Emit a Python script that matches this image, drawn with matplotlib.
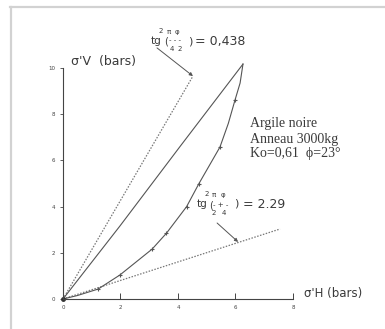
import matplotlib

matplotlib.use("Agg")
import matplotlib.pyplot as plt
from matplotlib.lines import Line2D

# loading path (with markers) and unloading path, bars
load_h = [0, 0.5, 1.22, 1.98, 3.1, 3.6, 4.3, 4.73, 5.1, 5.46, 5.75, 5.98, 6.16, 6.26]
load_v = [0, 0.15, 0.43, 1.04, 2.16, 2.85, 4.0, 5.0, 5.8, 6.58, 7.6, 8.6, 9.35, 10.17]
load_marks = [2, 3, 4, 5, 6, 7, 9, 11]
unload_h = [6.26, 4.07, 1.98, 0]
unload_v = [10.17, 6.6, 3.16, 0]

# limit lines (dotted)
k_active_h = [0, 4.52]
k_active_v = [0, 9.65]
k_passive_h = [0, 7.55]
k_passive_v = [0, 3.03]

x_ticks = [0, 2, 4, 6, 8]
y_ticks = [0, 2, 4, 6, 8, 10]

W, H = 385, 329
fig = plt.figure(figsize=(W / 100, H / 100), dpi=100)
fig.patch.set_facecolor("white")


def px(x, y):
    return x / W, 1 - y / H


# light frame of the scanned page
fig.add_artist(Line2D([10 / W, 1], [1 - 6.5 / H] * 2, transform=fig.transFigure, color="#d2d2d2", lw=1.6))
fig.add_artist(Line2D([11 / W] * 2, [0, 1 - 6.5 / H], transform=fig.transFigure, color="#d2d2d2", lw=1.6))

x0, y0 = px(63, 299)
x1, y1 = px(293, 68)
ax = fig.add_axes([x0, y0, x1 - x0, y1 - y0])
ax.set_xlim(0, 8)
ax.set_ylim(0, 10)
for s in ["top", "right"]:
    ax.spines[s].set_visible(False)
for s in ["left", "bottom"]:
    ax.spines[s].set_color("#444444")
    ax.spines[s].set_linewidth(0.8)
ax.set_xticks(x_ticks)
ax.set_yticks(y_ticks)
ax.tick_params(axis="x", direction="in", length=4, width=0.7, labelsize=4, colors="#444444", pad=4)
ax.tick_params(axis="y", direction="out", length=2.5, width=0.6, labelsize=4, colors="#444444", pad=3)

ax.plot(k_active_h, k_active_v, color="#777777", lw=0.9, ls=(0, (1.2, 1.2)), clip_on=False)
ax.plot(k_passive_h, k_passive_v, color="#777777", lw=0.9, ls=(0, (1.2, 1.2)), clip_on=False)
ax.plot(unload_h, unload_v, color="#555555", lw=0.8, clip_on=False)
ax.plot(load_h, load_v, color="#555555", lw=0.8, marker="+", ms=3, mew=0.8,
        markevery=load_marks, clip_on=False)
ax.plot([0], [0], marker="o", ms=2.5, color="#333333", clip_on=False)

arrow = dict(arrowstyle="-|>", color="#555555", lw=0.7, mutation_scale=5, shrinkA=0, shrinkB=0)
ax.annotate("", xy=(4.52, 9.65), xytext=(3.27, 10.87), arrowprops=arrow, annotation_clip=False)
ax.annotate("", xy=(6.09, 2.47), xytext=(5.36, 3.29), arrowprops=arrow, annotation_clip=False)

sans = dict(family="DejaVu Sans", color="#3a3a3a")
serif = dict(family="Liberation Serif", color="#3a3a3a")


def ftext(x, y, s, size=7.5, ha="left", **kw):
    fig.text(*px(x, y), s, fontsize=size, ha=ha, va="center", **kw)


# formula 1
ftext(151, 41, "tg", size=7.5, **sans)
ftext(159, 31, "2", size=5, **sans)
ftext(164, 42, "(", size=7, **sans)
ftext(169, 32, "π", size=5, ha="center", **sans)
ftext(177, 32, "φ", size=5, ha="center", **sans)
ftext(175, 40, "- - -", size=5, ha="center", **sans)
ftext(172, 49, "4", size=5, ha="center", **sans)
ftext(180, 49, "2", size=5, ha="center", **sans)
ftext(188, 41, ")", size=8, **sans)
ftext(195, 41, "= 0,438", size=9, **sans)

# formula 2
ftext(197, 204, "tg", size=7.5, **sans)
ftext(205, 194, "2", size=5, **sans)
ftext(209, 205, "(", size=7, **sans)
ftext(214, 195, "π", size=5, ha="center", **sans)
ftext(223, 195, "φ", size=5, ha="center", **sans)
ftext(221, 205, "- + -", size=5, ha="center", **sans)
ftext(214, 213, "2", size=5, ha="center", **sans)
ftext(224, 213, "4", size=5, ha="center", **sans)
ftext(234, 204, ")", size=8, **sans)
ftext(243, 204, "= 2.29", size=9, **sans)

ftext(71, 61, "σ'V  (bars)", size=9, **sans)
ftext(304, 294, "σ'H (bars)", size=8.5, **sans)

ftext(250, 124, "Argile noire", size=10, **serif)
ftext(250, 139, "Anneau 3000kg", size=10, **serif)
ftext(250, 154, "Ko=0,61  ϕ=23°", size=10, **serif)

fig.savefig("out.png", dpi=100)
